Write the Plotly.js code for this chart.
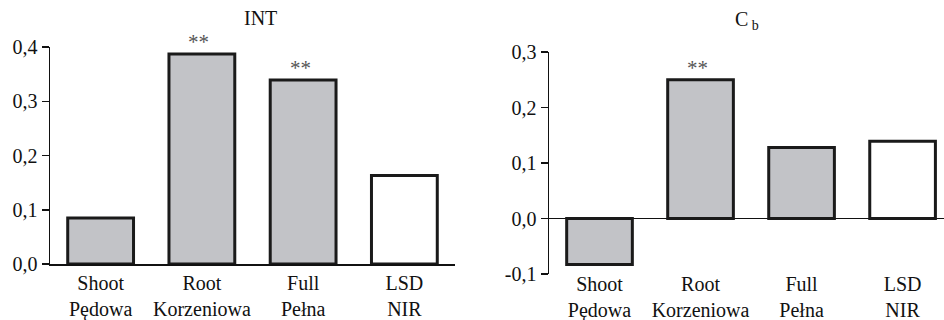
<!DOCTYPE html>
<html><head><meta charset="utf-8">
<script src="https://cdn.plot.ly/plotly-3.0.1.min.js"></script>
<style>html,body{margin:0;padding:0;background:#fff}#chart{width:944px;height:320px}</style>
</head><body><div id="chart"></div>
<script>
const categories = ['Shoot<br>Pędowa', 'Root<br>Korzeniowa', 'Full<br>Pełna', 'LSD<br>NIR'];
const intValues = [0.085, 0.387, 0.339, 0.163];
const cbValues = [-0.083, 0.250, 0.128, 0.139];
const intMarks = ['', '**', '**', ''];
const cbMarks = ['', '**', '', ''];
const intTicks = [0, 0.1, 0.2, 0.3, 0.4];
const intTickText = ['0,0', '0,1', '0,2', '0,3', '0,4'];
const cbTicks = [-0.1, 0, 0.1, 0.2, 0.3];
const cbTickText = ['-0,1', '0,0', '0,1', '0,2', '0,3'];
const barFills = ['#c2c3c7', '#c2c3c7', '#c2c3c7', '#ffffff'];
const titles = ['INT', 'C<sub> b</sub>'];

const FONT = 'Liberation Serif, Times New Roman, serif';
const W = 944, H = 320;

const barStyle = {
  type: 'bar', width: 0.65, hoverinfo: 'skip',
  marker: {color: barFills, line: {color: '#1a1a1a', width: 3}}
};
const traces = [
  Object.assign({}, barStyle, {x: categories, y: intValues, xaxis: 'x', yaxis: 'y'}),
  Object.assign({}, barStyle, {x: categories, y: cbValues, xaxis: 'x2', yaxis: 'y2'})
];

const annotations = [];
function addMarks(marks, values, xr, yr) {
  marks.forEach((m, i) => {
    if (!m) return;
    annotations.push({x: categories[i], y: values[i], xref: xr, yref: yr,
      text: m, showarrow: false, yanchor: 'bottom', yshift: -2, xshift: -3,
      font: {family: FONT, size: 21, color: '#555'}});
  });
}
addMarks(intMarks, intValues, 'x', 'y');
addMarks(cbMarks, cbValues, 'x2', 'y2');

const xd1 = [50 / W, 455 / W], xd2 = [549 / W, 1];
annotations.push({text: titles[0], xref: 'paper', yref: 'paper', x: (xd1[0] + xd1[1]) / 2 + 8 / W, y: 1 - 18 / H,
  xanchor: 'center', yanchor: 'middle', showarrow: false, font: {family: FONT, size: 20, color: '#111'}});
annotations.push({text: titles[1], xref: 'paper', yref: 'paper', x: (xd2[0] + xd2[1]) / 2, y: 1 - 20 / H,
  xanchor: 'center', yanchor: 'middle', showarrow: false, font: {family: FONT, size: 20, color: '#111'}});

const tickFont = {family: FONT, size: 20, color: '#111'};
const layout = {
  width: W, height: H, margin: {l: 0, r: 0, t: 0, b: 0},
  paper_bgcolor: '#fff', plot_bgcolor: '#fff', showlegend: false,
  font: {family: FONT, size: 20, color: '#111'},
  xaxis: {domain: xd1, range: [-0.5, 3.5], anchor: 'y', showline: true, linecolor: '#111', linewidth: 1.5,
    ticks: '', showgrid: false, zeroline: false, tickfont: tickFont, fixedrange: true},
  yaxis: {domain: [(H - 264) / H, (H - 47) / H], range: [0, 0.4], anchor: 'x', showline: true, linecolor: '#111',
    linewidth: 1.5, ticks: 'outside', ticklen: 7, tickwidth: 1.5, tickcolor: '#111',
    tickvals: intTicks, ticktext: intTickText, showgrid: false, zeroline: false, tickfont: tickFont, fixedrange: true},
  xaxis2: {domain: xd2, range: [-0.5, 3.41], anchor: 'y2', showline: false, ticks: '', showgrid: false,
    zeroline: false, tickfont: tickFont, ticklabelstandoff: -4, fixedrange: true},
  yaxis2: {domain: [(H - 274) / H, (H - 52) / H], range: [-0.1, 0.3], anchor: 'x2', showline: true, linecolor: '#111',
    linewidth: 1.5, ticks: 'outside', ticklen: 7, tickwidth: 1.5, tickcolor: '#111',
    tickvals: cbTicks, ticktext: cbTickText, showgrid: false, zeroline: true, zerolinecolor: '#111', zerolinewidth: 1.5,
    tickfont: tickFont, fixedrange: true},
  annotations: annotations
};

Plotly.newPlot('chart', traces, layout, {staticPlot: true, displayModeBar: false});
</script>
</body></html>
